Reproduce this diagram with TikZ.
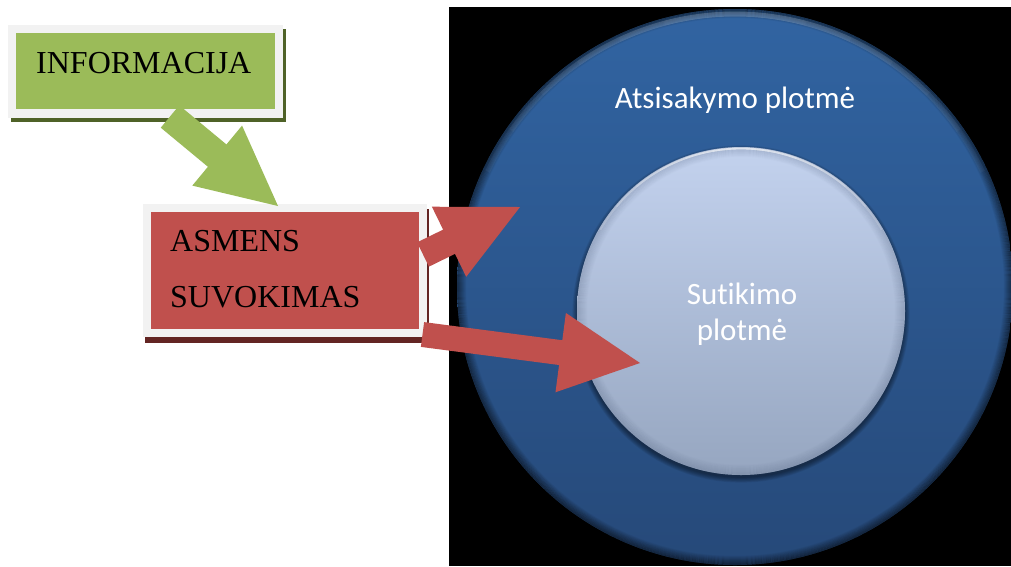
\documentclass[tikz,border=0pt]{standalone}
\usepackage{fontspec}
\setmainfont{Liberation Serif}
\newfontfamily\calib[Ligatures=NoCommon]{Carlito}
\usetikzlibrary{calc}

\definecolor{greenfill}{HTML}{9BBB59}
\definecolor{greenshadow}{HTML}{4F6228}
\definecolor{redfill}{HTML}{C0504D}
\definecolor{redshadow}{HTML}{632523}
\definecolor{framegray}{HTML}{F2F2F2}
\definecolor{outertop}{HTML}{3164A2}
\definecolor{outerbot}{HTML}{264979}
\definecolor{innertop}{HTML}{C3D2EE}
\definecolor{innerbot}{HTML}{96A6C0}
\definecolor{innerrim}{HTML}{5E6E8A}

% block arrow: colour, start, tip, half shaft width, half head width, head length
\newcommand\blockarrow[6]{%
  \coordinate (#2-neck) at ($(#3)!#6!(#2)$);
  \fill[#1] ($(#2)!#4!90:(#3)$) -- ($(#2-neck)!#4!-90:(#2)$)
    -- ($(#2-neck)!#5!-90:(#2)$) -- (#3)
    -- ($(#2-neck)!#5!90:(#2)$) -- ($(#2-neck)!#4!90:(#2)$)
    -- ($(#2)!#4!-90:(#3)$) -- cycle;}

\tikzset{
  part/.style={inner sep=0pt, outer sep=0pt, draw=none},
  boxtext/.style={anchor=base west, inner sep=0pt, text=black,
    font=\fontsize{32}{38}\selectfont},
  disctext/.style={anchor=base, inner sep=0pt, text=white,
    font=\calib\fontsize{31}{37}\selectfont},
}

\begin{document}
\begin{tikzpicture}[x=1pt,y=-1pt]
\fill[white] (0,0) rectangle (1011,566);
\useasboundingbox (0,0) rectangle (1011,566);

% dark panel with the two discs
\node[part, fill=black, minimum width=562pt, minimum height=559pt,
  anchor=north west] (panel) at (449,7) {};

\node[part, circle, minimum size=556pt, top color=outertop,
  bottom color=outerbot] (outer) at (735,287) {};
\foreach \k [evaluate=\k as \op using 0.45*(1-\k/9)] in {0,...,8}
  \draw[black, opacity=\op, line width=1.1pt] (outer.center) circle[radius={(277.5-\k)*1pt}];
% tapered light rim along the top
\foreach \s in {15,25,...,65}
  \draw[white, opacity=0.035, line width=5pt]
    ($(outer.center)+(90-\s:273pt)$) arc[start angle=90-\s, end angle=90+\s, radius=273pt];

\node[disctext] (outerlabel) at (735,108) {Atsisakymo plotmė};

% soft shadow round the inner disc
\foreach \k in {1,...,7}
  \fill[black, opacity=0.07] (741,314) circle[radius={(163+\k*0.8)*1pt}];

\node[part, circle, minimum size=328pt, top color=innertop,
  bottom color=innerbot] (inner) at (741,311) {};
\foreach \k [evaluate=\k as \op using 0.28*(1-\k/10)] in {0,...,9}
  \draw[innerrim, opacity=\op, line width=1.1pt] (inner.center) circle[radius={(163.5-\k)*1pt}];
% tapered highlight along the top edge
\foreach \s in {10,20,...,60}
  \draw[white, opacity=0.16, line width=1.8pt]
    ($(inner.center)+(90-\s:162.5pt)$) arc[start angle=90-\s, end angle=90+\s, radius=162.5pt];

\node[disctext] (innerlabel1) at (742,304) {Sutikimo};
\node[disctext] (innerlabel2) at (742,340) {plotmė};

% INFORMACIJA box
\node[part, fill=greenshadow, minimum width=275pt, minimum height=93pt]
  (infoshadow) at (148.5,75.5) {};
\node[part, fill=framegray, minimum width=275pt, minimum height=93pt]
  (infoframe) at (145.5,71.5) {};
\node[part, fill=greenfill, minimum width=259pt, minimum height=76pt]
  (info) at (145.5,71) {};
\node[boxtext] (infotext) at (36,73) {INFORMACIJA};

% ASMENS SUVOKIMAS box
\node[part, fill=redshadow, minimum width=284pt, minimum height=134pt]
  (persshadow) at (287,276) {};
\node[part, fill=framegray, minimum width=284pt, minimum height=133pt]
  (persframe) at (285,270.5) {};
\node[part, fill=redfill, minimum width=268pt, minimum height=117pt]
  (pers) at (285,270.5) {};
\node[boxtext] (perstext1) at (170,251) {ASMENS};
\node[boxtext] (perstext2) at (170,307) {SUVOKIMAS};

% block arrows
\coordinate (r1-start) at (423,254.5);
\coordinate (r1-tip) at (520,207);
\blockarrow{redfill}{r1-start}{r1-tip}{13.5pt}{39pt}{79pt}

\coordinate (r2-start) at (422.5,334.5);
\coordinate (r2-tip) at (640,363);
\blockarrow{redfill}{r2-start}{r2-tip}{12.5pt}{40pt}{80pt}

\coordinate (g-start) at (170,116.5);
\coordinate (g-tip) at (278,206);
\blockarrow{greenfill}{g-start}{g-tip}{14.5pt}{39pt}{79pt}
\end{tikzpicture}
\end{document}
